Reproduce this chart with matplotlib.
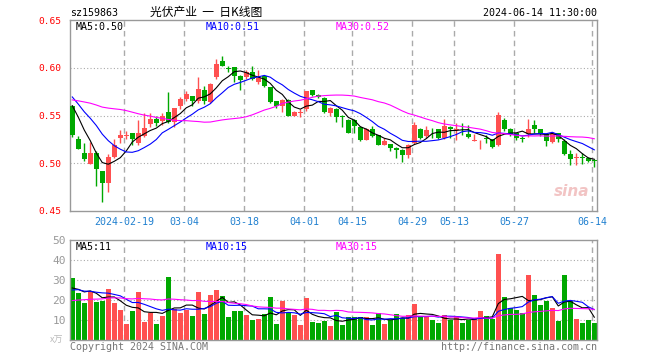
import numpy as np
import pandas as pd
import matplotlib
matplotlib.use('Agg')
import matplotlib.pyplot as plt

# trading days shown (2024-01-29 .. 2024-06-14)
holidays = ['2024-02-09', '2024-02-12', '2024-02-13', '2024-02-14', '2024-02-15',
            '2024-02-16', '2024-04-04', '2024-04-05', '2024-05-01', '2024-05-02',
            '2024-05-03', '2024-06-10']
days = pd.bdate_range('2024-01-29', '2024-06-14')
days = days[~days.isin(pd.to_datetime(holidays))]

opens = [0.5604, 0.5250, 0.5111, 0.4995, 0.5111, 0.4917, 0.4792, 0.5070, 0.5260, 0.5290,
         0.5320, 0.5208, 0.5281, 0.5414, 0.5466, 0.5441, 0.5535, 0.5430, 0.5597, 0.5677,
         0.5701, 0.5656, 0.5771, 0.5646, 0.5903, 0.6073, 0.5997, 0.6007, 0.5917, 0.5903,
         0.5955, 0.5848, 0.5910, 0.5795, 0.5649, 0.5597, 0.5667, 0.5500, 0.5528, 0.5563,
         0.5764, 0.5719, 0.5684, 0.5528, 0.5573, 0.5490, 0.5458, 0.5450, 0.5382, 0.5247,
         0.5358, 0.5295, 0.5194, 0.5198, 0.5163, 0.5142, 0.5083, 0.5215, 0.5358, 0.5285,
         0.5361, 0.5354, 0.5260, 0.5382, 0.5350, 0.5392, 0.5309, 0.5236, 0.5240, 0.5257,
         0.5250, 0.5188, 0.5458, 0.5361, 0.5319, 0.5262, 0.5302, 0.5396, 0.5354, 0.5302,
         0.5222, 0.5319, 0.5233, 0.5094, 0.5055, 0.5062, 0.5059, 0.5030]
highs = [0.5610, 0.5290, 0.5216, 0.5219, 0.5130, 0.4920, 0.5094, 0.5250, 0.5347, 0.5333,
         0.5320, 0.5448, 0.5521, 0.5521, 0.5500, 0.5521, 0.5743, 0.5580, 0.5695, 0.5753,
         0.5705, 0.5903, 0.5805, 0.5840, 0.6090, 0.6125, 0.6021, 0.6010, 0.5920, 0.5972,
         0.6014, 0.5972, 0.5915, 0.5800, 0.5650, 0.5670, 0.5670, 0.5545, 0.5563, 0.5760,
         0.5770, 0.5725, 0.5690, 0.5585, 0.5580, 0.5507, 0.5465, 0.5460, 0.5385, 0.5365,
         0.5392, 0.5299, 0.5260, 0.5205, 0.5165, 0.5150, 0.5205, 0.5431, 0.5370, 0.5389,
         0.5365, 0.5360, 0.5465, 0.5390, 0.5420, 0.5420, 0.5396, 0.5302, 0.5245, 0.5292,
         0.5257, 0.5535, 0.5469, 0.5365, 0.5320, 0.5290, 0.5465, 0.5452, 0.5361, 0.5305,
         0.5330, 0.5320, 0.5250, 0.5139, 0.5104, 0.5104, 0.5070, 0.5045]
lows = [0.5270, 0.5146, 0.5024, 0.4990, 0.4764, 0.4590, 0.4701, 0.5052, 0.5215, 0.5257,
        0.5188, 0.5188, 0.5271, 0.5382, 0.5393, 0.5403, 0.5417, 0.5382, 0.5563, 0.5649,
        0.5597, 0.5632, 0.5625, 0.5632, 0.5882, 0.6014, 0.5958, 0.5847, 0.5764, 0.5880,
        0.5868, 0.5830, 0.5800, 0.5632, 0.5580, 0.5535, 0.5490, 0.5490, 0.5486, 0.5550,
        0.5700, 0.5680, 0.5530, 0.5500, 0.5431, 0.5382, 0.5312, 0.5320, 0.5236, 0.5245,
        0.5280, 0.5190, 0.5190, 0.5125, 0.5052, 0.5014, 0.5050, 0.5205, 0.5255, 0.5260,
        0.5260, 0.5250, 0.5255, 0.5267, 0.5240, 0.5295, 0.5267, 0.5233, 0.5146, 0.5215,
        0.5163, 0.5181, 0.5337, 0.5290, 0.5240, 0.5220, 0.5278, 0.5320, 0.5285, 0.5181,
        0.5215, 0.5222, 0.5083, 0.4979, 0.4979, 0.4990, 0.5010, 0.4965]
closes = [0.5292, 0.5153, 0.5042, 0.5104, 0.4945, 0.4792, 0.5066, 0.5195, 0.5292, 0.5300,
          0.5257, 0.5320, 0.5372, 0.5466, 0.5424, 0.5493, 0.5430, 0.5580, 0.5674, 0.5726,
          0.5649, 0.5778, 0.5649, 0.5830, 0.6042, 0.6021, 0.5990, 0.5910, 0.5868, 0.5955,
          0.5885, 0.5892, 0.5806, 0.5642, 0.5597, 0.5667, 0.5500, 0.5535, 0.5535, 0.5754,
          0.5719, 0.5694, 0.5535, 0.5580, 0.5486, 0.5482, 0.5319, 0.5385, 0.5243, 0.5358,
          0.5285, 0.5194, 0.5229, 0.5160, 0.5139, 0.5090, 0.5194, 0.5396, 0.5267, 0.5344,
          0.5354, 0.5267, 0.5389, 0.5354, 0.5356, 0.5385, 0.5274, 0.5240, 0.5243, 0.5253,
          0.5170, 0.5500, 0.5354, 0.5302, 0.5267, 0.5258, 0.5354, 0.5354, 0.5302, 0.5233,
          0.5319, 0.5250, 0.5094, 0.5042, 0.5060, 0.5058, 0.5024, 0.5024]
volumes = [31.0, 23.7, 18.5, 24.5, 19.2, 19.7, 25.5, 18.7, 15.0, 8.0,
           14.5, 24.0, 9.2, 13.3, 8.0, 12.0, 31.5, 15.3, 13.5, 15.0,
           12.0, 24.0, 13.0, 22.5, 25.0, 22.0, 11.5, 14.5, 14.5, 12.5,
           10.0, 10.5, 13.0, 21.5, 8.0, 19.5, 14.0, 12.5, 7.5, 21.0,
           9.2, 8.5, 9.7, 7.0, 14.2, 7.5, 11.5, 11.5, 11.5, 11.5,
           7.5, 13.5, 8.0, 10.0, 13.0, 11.0, 12.5, 18.0, 12.0, 11.5,
           10.0, 8.5, 12.5, 10.0, 11.5, 8.5, 10.0, 11.0, 14.5, 12.0,
           10.5, 43.0, 21.5, 16.0, 15.0, 13.5, 32.5, 22.5, 17.5, 19.5,
           16.0, 9.5, 32.5, 19.5, 10.5, 8.5, 10.0, 8.5]

# sessions before the first visible day, read back from where the MA lines start
prior_close = [0.545, 0.540, 0.548, 0.552, 0.545, 0.538, 0.542, 0.550,
               0.565, 0.575, 0.582, 0.580, 0.578, 0.585, 0.575, 0.580,
               0.583, 0.578, 0.575, 0.580, 0.590, 0.585, 0.578, 0.570, 0.570,
               0.575, 0.572, 0.566, 0.559]
prior_vol = [15, 14, 17, 18, 16, 13, 15, 17, 19, 18, 16, 15, 17, 18, 16, 17,
             19, 21, 20, 20, 22, 26, 25, 24, 23, 27, 25, 22, 25]

tick_dates = ['2024-02-19', '2024-03-04', '2024-03-18', '2024-04-01', '2024-04-15',
              '2024-04-29', '2024-05-13', '2024-05-27', '2024-06-14']

RED = '#ff5050'
GREEN = '#00a800'
MONO = 'DejaVu Sans Mono'
n = len(closes)
x = np.arange(n)
o = np.array(opens)
c = np.array(closes)
up = c >= o
colors = [RED if u else GREEN for u in up]

price_all = pd.Series(prior_close + closes)
vol_all = pd.Series(prior_vol + volumes)
ma = {k: price_all.rolling(k).mean().values[-n:] for k in (5, 10, 30)}
vma = {k: vol_all.rolling(k).mean().values[-n:] for k in (5, 10, 30)}
ma_colors = {5: 'black', 10: '#0000ff', 30: '#ff00ff'}

fig = plt.figure(figsize=(6.6, 3.6), dpi=100)
W, H = 660, 360
ax1 = fig.add_axes([70 / W, 1 - 211 / H, 527 / W, 191 / H])
ax2 = fig.add_axes([70 / W, 1 - 340 / H, 527 / W, 100 / H])

tick_pos = [list(days.strftime('%Y-%m-%d')).index(d) - 0.33 for d in tick_dates]
tick_lab = [tick_dates[0]] + [d[5:] for d in tick_dates[1:]]

for ax in (ax1, ax2):
    ax.set_xlim(-0.38, 87.45)
    for s in ax.spines.values():
        s.set_color('#999999')
        s.set_linewidth(1)
    for p in tick_pos:
        ax.axvline(p, color='#aaaaaa', lw=1, ls=(0, (4, 3)), zorder=0)
    ax.tick_params(length=0)

# candles
body = np.maximum(np.abs(c - o), 0.0007)
ax1.vlines(x, lows, highs, colors=colors, lw=1, zorder=2)
ax1.bar(x, body, bottom=np.minimum(o, c), width=0.8, color=colors, lw=0, zorder=3)
for k in (5, 10, 30):
    ax1.plot(x, ma[k], color=ma_colors[k], lw=0.8, zorder=4)
ax1.set_ylim(0.45, 0.65)
for lv in (0.50, 0.55, 0.60):
    ax1.axhline(lv, color='#aaaaaa', lw=0.8, ls=(0, (1, 2)), zorder=0)
ax1.set_yticks([0.45, 0.50, 0.55, 0.60, 0.65])
ax1.set_yticklabels(['%.2f' % v for v in [0.45, 0.50, 0.55, 0.60, 0.65]],
                    color='#ff0000', fontsize=6.8, family=MONO)
ax1.tick_params(axis='y', pad=6)
ax1.set_xticks(tick_pos)
ax1.set_xticklabels(tick_lab, color='#2080d0', fontsize=7.2, family=MONO)
ax1.tick_params(axis='x', pad=4)


def trunc(v, d):
    return np.floor(v * 10 ** d) / 10 ** d


lab_x = {5: 0.01, 10: 0.257, 30: 0.504}
for k in (5, 10, 30):
    ax1.text(lab_x[k], 0.965, 'MA%d:%.2f' % (k, trunc(ma[k][-1], 2)), transform=ax1.transAxes,
             color=ma_colors[k], fontsize=7.2, family=MONO, va='center')
    ax2.text(lab_x[k], 0.935, 'MA%d:%d' % (k, int(vma[k][-1])), transform=ax2.transAxes,
             color=ma_colors[k], fontsize=7.2, family=MONO, va='center')

ax1.text(0.985, 0.1, 'sina', transform=ax1.transAxes, ha='right', va='center',
         color='#f2c4c4', fontsize=11, fontweight='bold', style='italic', zorder=1)

# volume
ax2.bar(x, volumes, width=0.86, color=colors, lw=0, zorder=2)
for k in (5, 10, 30):
    ax2.plot(x, vma[k], color=ma_colors[k], lw=0.8, zorder=3)
ax2.set_ylim(0, 50)
for lv in (10, 20, 30, 40):
    ax2.axhline(lv, color='#aaaaaa', lw=0.8, ls=(0, (1, 2)), zorder=0)
ax2.set_yticks([10, 20, 30, 40, 50])
ax2.set_yticklabels(['10', '20', '30', '40', '50'], color='#999999', fontsize=8, family=MONO)
ax2.tick_params(axis='y', pad=3)
ax2.set_xticks([])

fig.text(70 / W, 1 - 13 / H, 'sz159863', fontsize=7.2, family=MONO, va='center')
fig.text(150 / W, 1 - 12 / H, '光伏产业  一  日K线图', fontsize=8.5,
         family=['Noto Sans CJK SC', 'DejaVu Sans'], va='center')
fig.text(597 / W, 1 - 13 / H, '2024-06-14 11:30:00', fontsize=7.2, family=MONO,
         va='center', ha='right')
fig.text(57 / W, 1 - 340 / H, 'x万', fontsize=6.5, color='#bbbbbb',
         family=['Noto Sans CJK SC', 'DejaVu Sans'], va='center', ha='center')
fig.text(70 / W, 1 - 347 / H, 'Copyright 2024 SINA.COM', fontsize=7.2, family=MONO,
         color='#777777', va='center')
fig.text(597 / W, 1 - 347 / H, 'http://finance.sina.com.cn', fontsize=7.2, family=MONO,
         color='#777777', va='center', ha='right')

fig.savefig('out.png', dpi=100)
